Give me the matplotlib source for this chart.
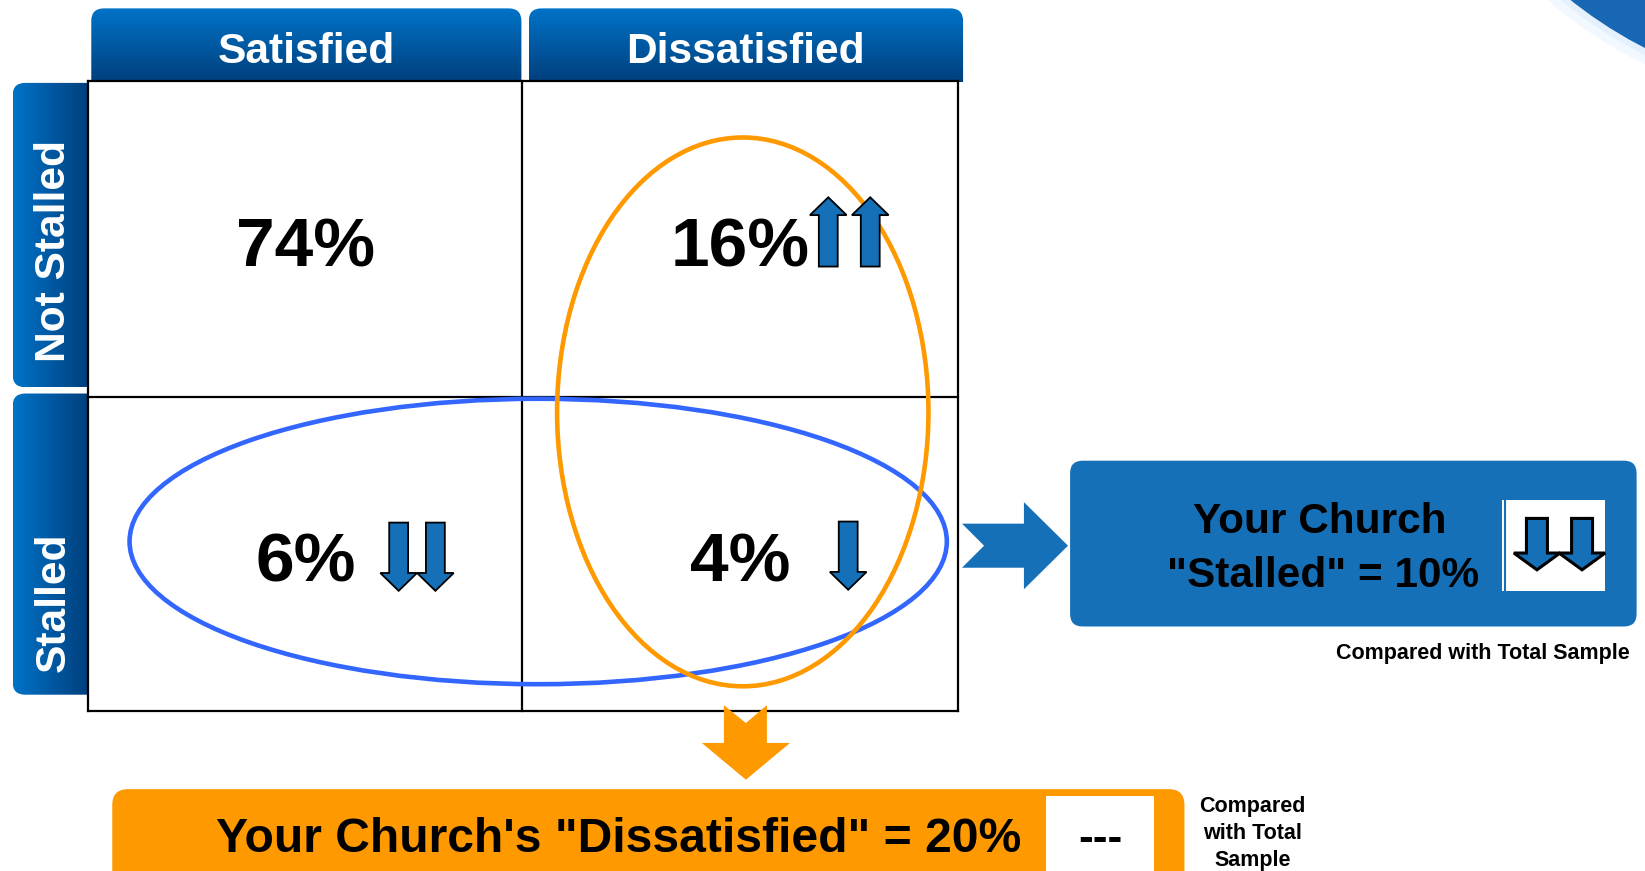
import numpy as np
import matplotlib
matplotlib.use("Agg")
import matplotlib.pyplot as plt
from matplotlib.patches import FancyBboxPatch, Polygon, Ellipse, Rectangle, Circle
from matplotlib.colors import LinearSegmentedColormap

plt.rcParams['font.family'] = ['Liberation Sans', 'DejaVu Sans']
plt.rcParams['font.weight'] = 'bold'

# ---------------- data ----------------
col_labels = ["Satisfied", "Dissatisfied"]
row_labels = ["Not Stalled", "Stalled"]
cell_values = [[74, 16], [6, 4]]
# trend vs total sample: +n = n up arrows, -n = n down arrows, 0 = none
cell_trends = [[0, 2], [-2, -1]]
stalled_total = 10
stalled_trend = -2
dissatisfied_total = 20
dissatisfied_trend = "---"
compare_note = "Compared with Total Sample"

# ---------------- layout (canvas units: 1568 x 830) ----------------
W, H = 1568, 830
grid_x = [84, 498, 913]
grid_y = [77, 378, 678]
arrow_dx = [[0, 84], [89, 103]]       # first arrow offset from cell centre
arrow_gap = [[0, 40], [35, 0]]
arrow_y = [[None, (254, 188)], [(498, 563), (497, 562)]]

BLUE = "#1570B8"
ORANGE = "#FF9900"
ELL_BLUE = "#3366FF"

fig = plt.figure(figsize=(16.45, 8.71), dpi=100)
ax = fig.add_axes([0, 0, 1, 1])
ax.axis('off')


def gradient_box(x0, y0, x1, y1, clip_box, c0, c1, vertical, r, z):
    cx0, cy0, cx1, cy1 = clip_box
    patch = FancyBboxPatch((cx0, cy0), cx1 - cx0, cy1 - cy0,
                           boxstyle=f"round,pad=0,rounding_size={r}",
                           fc='none', ec='none', zorder=z)
    ax.add_patch(patch)
    g = np.linspace(0, 1, 256)
    arr = g[:, None] if vertical else g[None, :]
    cmap = LinearSegmentedColormap.from_list('g', [c0, c1])
    im = ax.imshow(arr, cmap=cmap, extent=(x0, x1, y1, y0), aspect='auto',
                   zorder=z, interpolation='bilinear')
    im.set_clip_path(patch)


def block_arrow(xc, y_tail, y_tip, shaft_w, head_w, head_len, fc, ec, lw, z=6):
    d = np.sign(y_tip - y_tail)
    yb = y_tip - d * head_len
    pts = [(xc - shaft_w / 2, y_tail), (xc + shaft_w / 2, y_tail),
           (xc + shaft_w / 2, yb), (xc + head_w / 2, yb), (xc, y_tip),
           (xc - head_w / 2, yb), (xc - shaft_w / 2, yb)]
    ax.add_patch(Polygon(pts, closed=True, fc=fc, ec=ec, lw=lw, zorder=z,
                         joinstyle='miter'))


# top-right swoosh
ax.add_patch(Circle((1760, -330), 436, fc="#F2F8FF", ec='none', zorder=0))
ax.add_patch(Circle((1760, -330), 428, fc="#E4F0FC", ec='none', zorder=0.2))
ax.add_patch(Circle((1760, -330), 422, fc="#1767B4", ec='none', zorder=0.5))

# column headers (rounded top corners only)
hdr_x = [(87, 497), (504, 918)]
for (x0, x1), lab in zip(hdr_x, col_labels):
    gradient_box(x0, 8, x1, 78, (x0, 8, x1, 110), "#0073C8", "#003F7C", True, 12, 1)
    ax.text((x0 + x1) / 2, 60, lab, color='white', fontsize=30.6,
            fontweight='bold', ha='center', va='baseline', zorder=3)

# row headers (rounded left corners only)
row_y = [(79, 369), (375, 662)]
row_text_bottom = [345, 640]
for (y0, y1), lab, yt in zip(row_y, row_labels, row_text_bottom):
    gradient_box(12, y0, 84, y1, (12, y0, 110, y1), "#0073C8", "#003F7C", False, 12, 1)
    ax.text(51, yt, lab, color='white', fontsize=30.6, fontweight='bold',
            rotation=90, ha='center', va='bottom', zorder=3)

# grid
ax.add_patch(Rectangle((grid_x[0], grid_y[0]), grid_x[2] - grid_x[0],
                       grid_y[2] - grid_y[0], fc='white', ec='none', zorder=2))
for x in grid_x:
    ax.plot([x, x], [grid_y[0], grid_y[2]], color='black', lw=1.6, zorder=3)
for y in grid_y:
    ax.plot([grid_x[0], grid_x[2]], [y, y], color='black', lw=1.6, zorder=3)

# highlight ellipses
ax.add_patch(Ellipse((513, 516), 779, 272, fc='none', ec=ELL_BLUE, lw=3.3, zorder=4))
ax.add_patch(Ellipse((708, 392.5), 354, 523, fc='none', ec=ORANGE, lw=3.3, zorder=4.5))

# cells
for i in range(2):
    for j in range(2):
        cx = (grid_x[j] + grid_x[j + 1]) / 2
        cy = (grid_y[i] + grid_y[i + 1]) / 2
        ax.text(cx, cy + 26.5, f"{cell_values[i][j]}%", fontsize=50,
                fontweight='bold', ha='center', va='baseline', color='black',
                zorder=6)
        n = abs(cell_trends[i][j])
        for k in range(n):
            xa = cx + arrow_dx[i][j] + k * arrow_gap[i][j]
            yt, yp = arrow_y[i][j]
            block_arrow(xa, yt, yp, 18, 35, 17, BLUE, 'black', 1.3)

# blue chevron to the right
chev = [(917, 499), (976, 499), (976, 478.5), (1018, 520), (976, 561.5),
        (976, 541), (917, 541), (938, 520)]
ax.add_patch(Polygon(chev, closed=True, fc=BLUE, ec='none', zorder=3))

# stalled summary box
ax.add_patch(FancyBboxPatch((1020, 439), 540, 158,
                            boxstyle="round,pad=0,rounding_size=12",
                            fc=BLUE, ec='none', zorder=3))
ax.text(1258, 508, "Your Church", fontsize=30.5, fontweight='bold',
        ha='center', va='baseline', zorder=5)
ax.text(1261, 559.5, f'"Stalled" = {stalled_total}%', fontsize=30.5,
        fontweight='bold', ha='center', va='baseline', zorder=5)
ax.add_patch(Rectangle((1432, 476), 98, 87, fc='white', ec='none', zorder=4))
ax.plot([1435, 1435], [476, 563], color=BLUE, lw=1.5, zorder=4.5)
for k in range(abs(stalled_trend)):
    block_arrow(1465 + k * 43, 494, 543, 20, 44, 16, BLUE, 'black', 2.2)
ax.text(1553, 628, compare_note, fontsize=15.5, fontweight='bold',
        ha='right', va='baseline', zorder=5)

# orange down arrow with notched tail
oarr = [(690, 672), (711, 689), (731, 672), (731, 708), (753, 708),
        (711, 743), (669, 708), (690, 708)]
ax.add_patch(Polygon(oarr, closed=True, fc=ORANGE, ec='none', zorder=3))

# dissatisfied summary box
ax.add_patch(FancyBboxPatch((107, 752), 1022, 120,
                            boxstyle="round,pad=0,rounding_size=15",
                            fc=ORANGE, ec='none', zorder=3))
ax.text(973, 812, f'Your Church\'s "Dissatisfied" = {dissatisfied_total}%',
        fontsize=34.6, fontweight='bold', ha='right', va='baseline', zorder=5)
ax.add_patch(Rectangle((997, 759), 103, 100, fc='white', ec='none', zorder=4))
ax.text(1049, 800, dissatisfied_trend, fontsize=32, fontweight='bold',
        ha='center', va='center', zorder=5)
ax.text(1194, 794, "Compared\nwith Total\nSample", fontsize=15.5,
        fontweight='bold', ha='center', va='center', linespacing=1.38, zorder=5)

ax.set_xlim(0, W)
ax.set_ylim(H, 0)
fig.savefig("out.png", dpi=100)
